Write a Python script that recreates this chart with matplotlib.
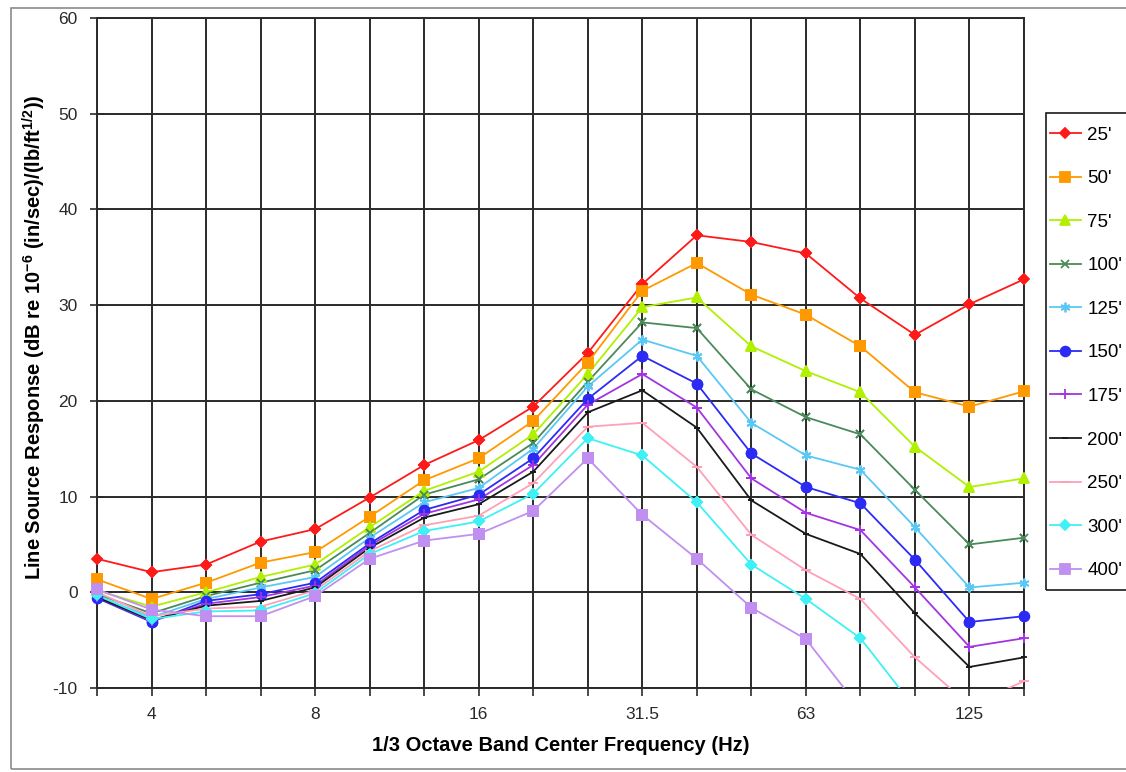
import numpy as np
import matplotlib
matplotlib.use("Agg")
import matplotlib.pyplot as plt
from matplotlib.patches import Rectangle

plt.rcParams['font.family'] = ['Liberation Sans', 'DejaVu Sans']
plt.rcParams['mathtext.default'] = 'regular'
plt.rcParams['axes.unicode_minus'] = False

# 1/3 octave band centers (Hz)
bands = ['3.15', '4', '5', '6.3', '8', '10', '12.5', '16', '20', '25',
         '31.5', '40', '50', '63', '80', '100', '125', '160']
shown_bands = ['4', '8', '16', '31.5', '63', '125']

distances = ["25'", "50'", "75'", "100'", "125'", "150'", "175'", "200'", "250'", "300'", "400'"]

r25 = [3.5, 2.1, 2.9, 5.3, 6.6, 9.9, 13.3, 15.9, 19.4, 25.0, 32.2, 37.3, 36.6, 35.4, 30.7, 26.9, 30.1, 32.7]
r50 = [1.35, -0.7, 1.0, 3.1, 4.2, 7.9, 11.7, 14.0, 17.9, 24.0, 31.5, 34.4, 31.1, 29.0, 25.7, 20.9, 19.4, 21.0]
r75 = [0.2, -1.5, 0.0, 1.6, 2.9, 6.8, 10.6, 12.6, 16.5, 22.8, 29.8, 30.8, 25.7, 23.1, 20.9, 15.2, 11.0, 11.9]
r100 = [-0.2, -2.2, -0.4, 1.0, 2.3, 6.2, 10.2, 11.8, 15.6, 22.0, 28.2, 27.6, 21.2, 18.3, 16.5, 10.7, 5.0, 5.7]
r125 = [-0.4, -2.6, -0.7, 0.5, 1.6, 5.7, 9.4, 10.9, 15.0, 21.5, 26.4, 24.7, 17.7, 14.3, 12.8, 6.8, 0.5, 1.0]
r150 = [-0.6, -3.1, -0.9, -0.2, 1.0, 5.1, 8.6, 10.2, 14.0, 20.2, 24.7, 21.8, 14.5, 11.0, 9.3, 3.4, -3.1, -2.5]
r175 = [-0.5, -3.0, -1.2, -0.5, 0.7, 4.9, 8.2, 9.7, 13.3, 19.6, 22.8, 19.3, 11.9, 8.3, 6.5, 0.5, -5.7, -4.8]
r200 = [-0.5, -2.9, -1.4, -0.9, 0.5, 4.65, 7.8, 9.2, 12.6, 18.8, 21.1, 17.2, 9.6, 6.1, 4.0, -2.2, -7.8, -6.8]
r250 = [0.0, -2.5, -1.7, -1.5, 0.2, 4.3, 7.0, 8.0, 11.4, 17.3, 17.7, 13.1, 6.0, 2.3, -0.7, -6.8, -11.8, -9.3]
r300 = [-0.3, -2.8, -2.0, -1.9, -0.1, 4.0, 6.4, 7.4, 10.3, 16.1, 14.3, 9.4, 2.9, -0.7, -4.8, -12.1, -17.0, -16.0]
r400 = [0.3, -1.8, -2.5, -2.5, -0.4, 3.5, 5.4, 6.1, 8.5, 14.0, 8.1, 3.5, -1.6, -4.9, -12.2, -18.0, -22.0, -21.0]

series = [r25, r50, r75, r100, r125, r150, r175, r200, r250, r300, r400]

colors = ['#ff1a1a', '#ff9900', '#b0f000', '#4a8a5a', '#5ac8f5', '#2b2bf5',
          '#a335e0', '#1a1a1a', '#ffa0b8', '#3ff0f5', '#c08ff0']
markers = ['D', 's', '^', 'x', (6, 2, 0), 'o', '+', '_', '_', 'D', 's']
msizes = [5, 6.5, 6.5, 6, 7, 7, 7, 4, 7, 5, 7]

fig = plt.figure(figsize=(11.26, 7.72), dpi=100)
# chart area border
fig.patches.append(Rectangle((11 / 1126, 1 - 769 / 772), 1.2, (769 - 8) / 772,
                             transform=fig.transFigure, fill=False,
                             edgecolor='#8a8a8a', lw=1.2))
# legend box (runs off the right edge like the original)
fig.patches.append(Rectangle((1046 / 1126, 1 - 590 / 772), 0.2, (590 - 113) / 772,
                             transform=fig.transFigure, fill=False,
                             edgecolor='#1a1a1a', lw=1.2))

ax = fig.add_axes([97 / 1126, 1 - 688 / 772, (1024 - 97) / 1126, (688 - 18) / 772])
x = np.arange(len(bands))

handles = []
for vals, c, m, ms, lab in zip(series, colors, markers, msizes, distances):
    y = np.array(vals)
    h, = ax.plot(x, y, color=c, lw=1.3, marker=m, ms=ms, mfc=c, mec=c,
                 mew=1.3, label=lab, zorder=3)
    handles.append(h)
    # markers at the edges drawn unclipped, like the original
    ax.plot(x, np.ma.masked_less(y, -10), ls='none', marker=m, ms=ms,
            mfc=c, mec=c, mew=1.3, clip_on=False, zorder=4)

ax.set_xlim(0, len(bands) - 1)
ax.set_ylim(-10, 60)
ax.set_yticks(np.arange(-10, 61, 10))
ax.set_xticks(x)
ax.set_xticklabels([b if b in shown_bands else '' for b in bands])
ax.grid(True, color='#2a2a2a', lw=1.4)
ax.set_axisbelow(True)
for s in ax.spines.values():
    s.set_color('#2a2a2a')
    s.set_linewidth(1.4)
ax.tick_params(axis='x', direction='out', length=6, width=1.2, color='#2a2a2a',
               labelsize=12.5, labelcolor='#2a2a2a', pad=8)
ax.tick_params(axis='y', direction='inout', length=10, width=1.2, color='#2a2a2a',
               labelsize=12.5, labelcolor='#2a2a2a', pad=9)

ax.set_xlabel('1/3 Octave Band Center Frequency (Hz)', fontsize=14.5, fontweight='bold')
ax.xaxis.set_label_coords(0.5, -0.072)
ax.set_ylabel(r'Line Source Response (dB re 10$^{-6}$ (in/sec)/(lb/ft$^{1/2}$))',
              fontsize=14.5, fontweight='bold')
ax.yaxis.set_label_coords(-0.053, 0.524)

fig.legend(handles=handles, loc='upper left',
           bbox_to_anchor=(1050 / 1126, 1 - 126.5 / 772), borderaxespad=0,
           fontsize=13.5, frameon=False,
           handlelength=1.65, handletextpad=0.35, labelspacing=1.41,
           borderpad=0, numpoints=1)

fig.savefig('out.png', dpi=100, facecolor='white')
